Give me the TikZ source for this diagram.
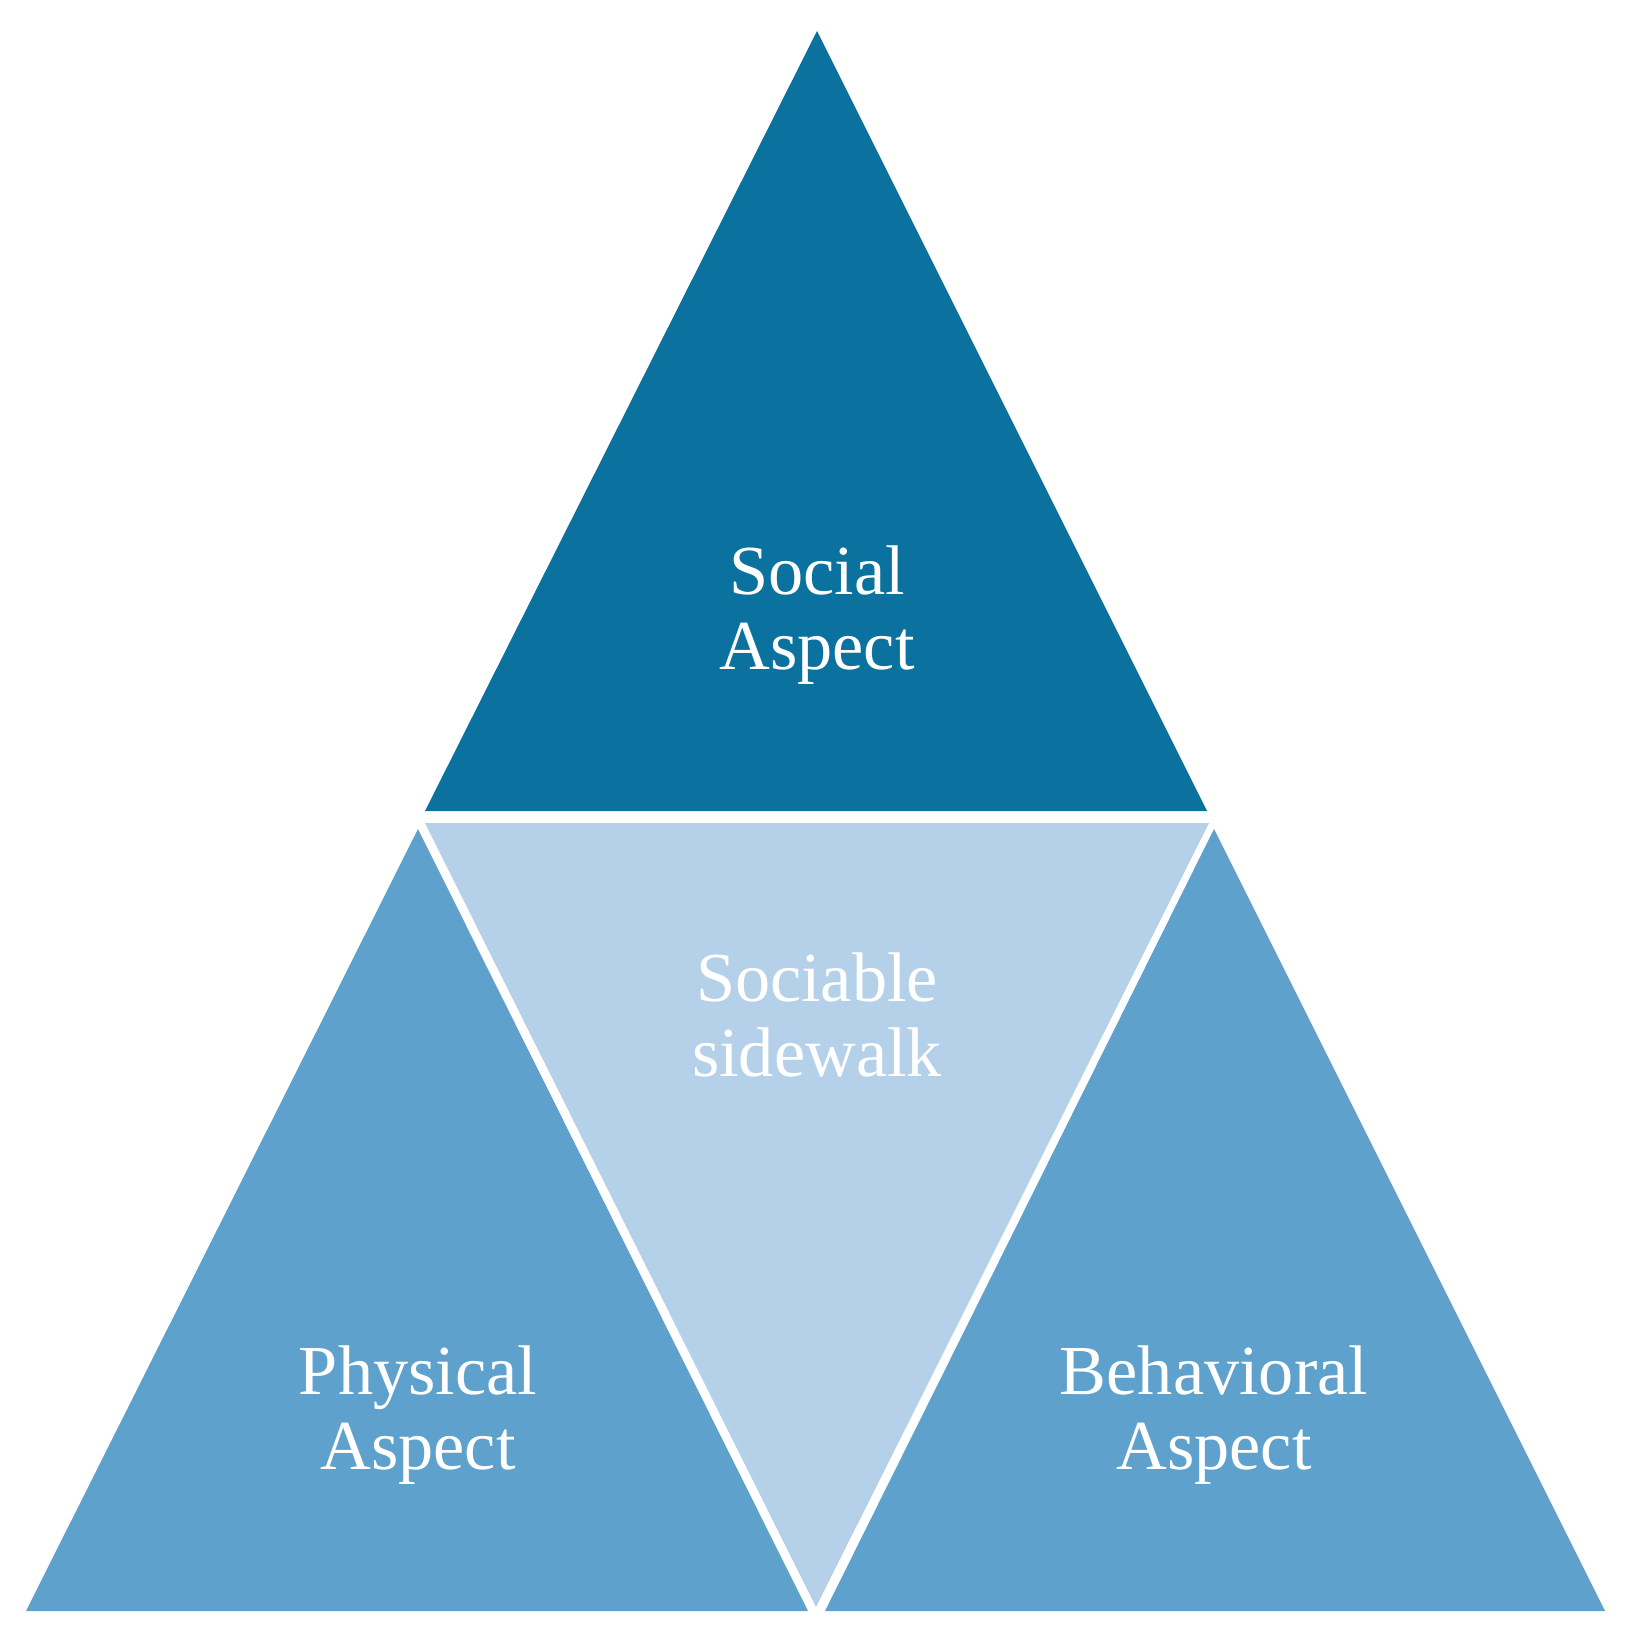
\documentclass[tikz,border=0pt]{standalone}
\usepackage{fontspec}
\setmainfont{Liberation Serif}
\definecolor{topc}{HTML}{0B72A0}
\definecolor{sidec}{HTML}{5FA1CD}
\definecolor{midc}{HTML}{B5D1EA}
\begin{document}
\begin{tikzpicture}[x=0.02cm,y=-0.02cm,
  lbl/.style={text=white,align=center,font=\fontsize{40}{43}\selectfont}]
\useasboundingbox (0,0) rectangle (1630,1640);
\fill[topc] (817,31) -- (1207,811) -- (425,811) -- cycle;
\fill[sidec] (418,829) -- (808,1611) -- (26,1611) -- cycle;
\fill[sidec] (1214,829) -- (1605,1611) -- (825,1611) -- cycle;
\fill[midc] (425,823) -- (1209,823) -- (816,1607) -- cycle;
\node[lbl] (soc) at (817,615) {Social\\Aspect};
\node[lbl] (mid) at (817,1015) {Sociable\\sidewalk};
\node[lbl] (phy) at (418,1415) {Physical\\Aspect};
\node[lbl] (beh) at (1214,1415) {Behavioral\\Aspect};
\end{tikzpicture}
\end{document}
